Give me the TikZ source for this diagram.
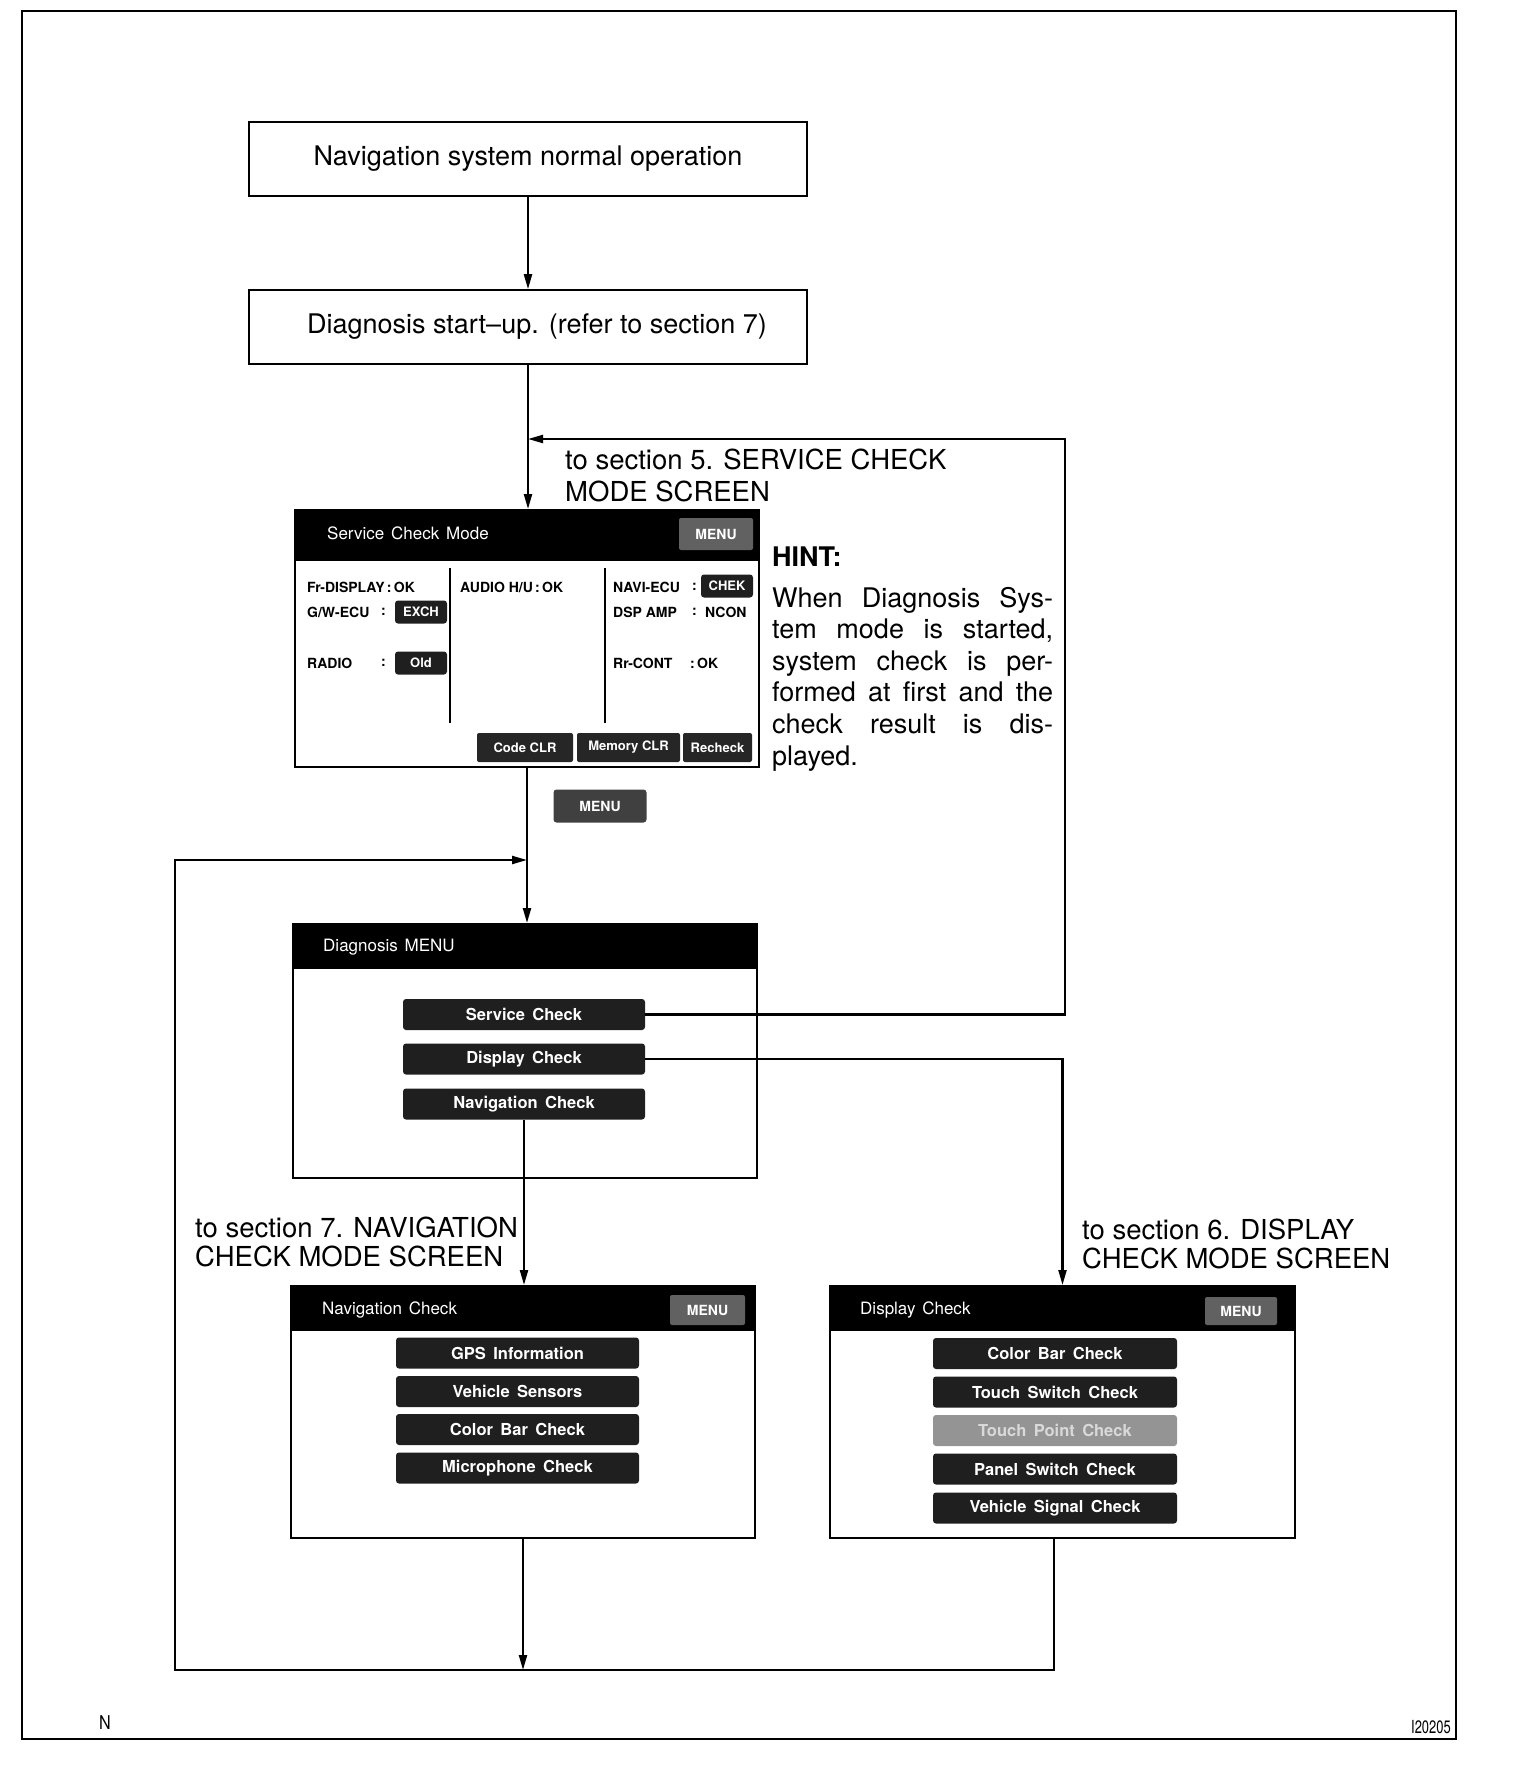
\documentclass[tikz,border=0pt]{standalone}
\usepackage{fontspec}
\setmainfont{TeX Gyre Heros}
\usetikzlibrary{arrows.meta,calc}
\newcommand\btnfont{\fontsize{16.5}{18}\selectfont\bfseries\spaceskip=0.45em plus 0.1em\relax}
\newcommand\hintline[1]{\makebox[281pt][s]{#1}}
\tikzset{
  conn/.style={line width=2.2pt},
  arr/.style={conn,-{Triangle[length=15pt,width=8pt]}},
  flowbox/.style={draw,line width=1.6pt,inner sep=0pt,font=\fontsize{27}{31}\selectfont},
  screen/.style={draw,line width=2pt,inner sep=0pt},
  hdr/.style={fill=black,inner sep=0pt,anchor=north},
  hdrtxt/.style={anchor=west,text=white,inner sep=0pt,font={\fontsize{17}{20}\selectfont\spaceskip=0.4em\relax}},
  btn/.style={fill=black!88,rounded corners=3pt,text=white,inner sep=0pt,minimum height=31pt,minimum width=243pt,font=\btnfont},
  greybtn/.style={btn,fill=black!42,text=black!15},
  menubtn/.style={fill=black!62,rounded corners=2pt,text=white,inner sep=0pt,font=\fontsize{14}{16}\selectfont\bfseries},
  tag/.style={fill=black!88,rounded corners=3pt,text=white,inner sep=0pt,minimum width=52pt,minimum height=23pt,font=\fontsize{13}{15}\selectfont\bfseries},
  smallbtn/.style={fill=black!85,rounded corners=2pt,text=white,inner sep=0pt,minimum height=29pt,font=\fontsize{13}{15}\selectfont\bfseries},
  lbl/.style={anchor=west,inner sep=0pt,font=\fontsize{14}{16}\selectfont\bfseries},
  big/.style={anchor=base west,inner sep=0pt,font=\fontsize{27.5}{31}\selectfont},
  hint/.style={anchor=base west,inner sep=0pt,font=\fontsize{27}{31}\selectfont},
}
\begin{document}
\begin{tikzpicture}[x=1pt,y=-1pt]
\useasboundingbox (0,0) rectangle (1520,1772);
% outer frame
\draw[line width=2.5pt] (22,11) rectangle (1456,1739);

% flow boxes
\node[flowbox,minimum width=558pt,minimum height=74pt] (b1) at (528,159) {\raisebox{-3pt}{Navigation system normal operation}};
\node[flowbox,minimum width=558pt,minimum height=74pt] (b2) at (528,327) {\hspace*{18pt}\raisebox{-2pt}{Diagnosis start--up. (refer to section 7)}};

% Service Check Mode screen
\node[screen,minimum width=464pt,minimum height=257pt] (scm) at (527,638.5) {};
\node[hdr,minimum width=464pt,minimum height=52pt] (scmh) at (scm.north) {};
\node[hdrtxt] (scmt) at (327,533) {Service Check Mode};
\node[menubtn,minimum width=74pt,minimum height=32pt] (scmm) at (716,534) {MENU};
\node[lbl] (l1) at (307,587) {Fr-DISPLAY\,:\,OK};
\node[lbl] (l2) at (307,612) {G/W-ECU};
\node[lbl] (l2c) at (381,612) {:};
\node[tag] (exch) at (421,612) {EXCH};
\node[lbl] (l3) at (307,663) {RADIO};
\node[lbl] (l3c) at (381,663) {:};
\node[tag] (old) at (421,663) {Old};
\node[lbl] (l4) at (460,587) {AUDIO H/U\,:\,OK};
\node[lbl] (l5) at (613,587) {NAVI-ECU};
\node[lbl] (l5c) at (692,587) {:};
\node[tag] (chek) at (727,586) {CHEK};
\node[lbl] (l6) at (613,612) {DSP AMP};
\node[lbl] (l6c) at (692,612) {:};
\node[lbl] (l6v) at (705,612) {NCON};
\node[lbl] (l7) at (613,663) {Rr-CONT};
\node[lbl] (l7c) at (690,663) {:\,OK};
\draw[line width=2pt] (450,568) -- (450,723);
\draw[line width=2pt] (605,568) -- (605,723);
\node[smallbtn,minimum width=96pt] (codeclr) at (525,747.5) {Code CLR};
\node[smallbtn,minimum width=103pt] (memclr) at (628.5,747.5) {Memory CLR};
\node[smallbtn,minimum width=69pt] (rechk) at (717.5,747.5) {Recheck};

% stand-alone MENU button
\node[menubtn,fill=black!75,minimum width=93pt,minimum height=33pt,rounded corners=3pt] (menu) at (600,806) {MENU};

% Diagnosis MENU screen
\node[screen,minimum width=464pt,minimum height=254pt] (dm) at (525,1051) {};
\node[hdr,minimum width=464pt,minimum height=46pt] (dmh) at (dm.north) {};
\node[hdrtxt] (dmt) at (323,947) {Diagnosis MENU};
\node[btn,minimum width=242pt] (svc) at (524,1014.5) {Service Check};
\node[btn,minimum width=242pt] (dsp) at (524,1059) {Display Check};
\node[btn,minimum width=242pt] (navb) at (524,1104) {Navigation Check};

% Navigation Check screen
\node[screen,minimum width=464pt,minimum height=252pt] (nc) at (523,1412) {};
\node[hdr,minimum width=464pt,minimum height=46pt] (nch) at (nc.north) {};
\node[hdrtxt] (nct) at (322,1310) {Navigation Check};
\node[menubtn,minimum width=75pt,minimum height=30pt] (ncm) at (707.5,1310) {MENU};
\node[btn] (gps) at (517.5,1353) {GPS Information};
\node[btn] (vs) at (517.5,1391.5) {Vehicle Sensors};
\node[btn] (cb1) at (517.5,1429.5) {Color Bar Check};
\node[btn] (mic) at (517.5,1468) {Microphone Check};

% Display Check screen
\node[screen,minimum width=465pt,minimum height=252pt] (dc) at (1062.5,1412) {};
\node[hdr,minimum width=465pt,minimum height=46pt] (dch) at (dc.north) {};
\node[hdrtxt] (dct) at (860,1310) {Display Check};
\node[menubtn,minimum width=72pt,minimum height=28pt] (dcm) at (1241,1311) {MENU};
\node[btn,minimum width=244pt] (cb2) at (1055,1353.5) {Color Bar Check};
\node[btn,minimum width=244pt] (tsw) at (1055,1392) {Touch Switch Check};
\node[greybtn,minimum width=244pt] (tpt) at (1055,1430.5) {Touch Point Check};
\node[btn,minimum width=244pt] (psw) at (1055,1469) {Panel Switch Check};
\node[btn,minimum width=244pt] (vsig) at (1055,1508) {Vehicle Signal Check};

% helper coordinates
\coordinate (j) at (527,860);
\coordinate (lb) at (175,1670);
\coordinate (rt) at (1065,439);
\coordinate (dcx) at (1054,1670);

% connectors
\draw[arr] (b1.south) -- (b2.north);
\draw[arr] (b2.south) -- (b2.south |- scm.north);
\draw[arr] (scm.south -| j) -- (j |- dm.north);
\draw[arr] (svc.east) -- (svc.east -| rt) -- (rt) -- (rt -| b2.south);
\draw[arr] (dsp.east) -- (dsp.east -| dc.north) -- (dc.north);
\draw[arr] (navb.south) -- (navb.south |- nc.north);
\draw[arr] (nc.south) -- (nc.south |- lb);
\draw[arr] (dc.south -| dcx) -- (dcx) -- (lb) -- (lb |- j) -- (j);

% labels
\node[big] (t5a) at (565,469) {to section 5. SERVICE CHECK};
\node[big] (t5b) at (565,501) {MODE SCREEN};
\node[big] (t7a) at (195,1237) {to section 7. NAVIGATION};
\node[big] (t7b) at (195,1266) {CHECK MODE SCREEN};
\node[big] (t6a) at (1082,1239) {to section 6. DISPLAY};
\node[big] (t6b) at (1082,1268) {CHECK MODE SCREEN};

% hint
\node[hint,font=\fontsize{27}{31}\selectfont\bfseries] (hint) at (772,566) {HINT:};
\node[hint] (h1) at (772,607) {\hintline{When Diagnosis Sys-}};
\node[hint] (h2) at (772,638) {\hintline{tem mode is started,}};
\node[hint] (h3) at (772,670) {\hintline{system check is per-}};
\node[hint] (h4) at (772,701) {\hintline{formed at first and the}};
\node[hint] (h5) at (772,733) {\hintline{check result is dis-}};
\node[hint] (h6) at (772,765) {played.};

% corner marks
\node[anchor=base west,inner sep=0pt,font=\fontsize{19}{21}\selectfont] (nmark) at (99,1729) {\scalebox{0.85}[1]{N}};
\node[anchor=base east,inner sep=0pt,font=\fontsize{18}{20}\selectfont] (code) at (1451,1733) {\scalebox{0.72}[1]{I20205}};
\end{tikzpicture}
\end{document}
